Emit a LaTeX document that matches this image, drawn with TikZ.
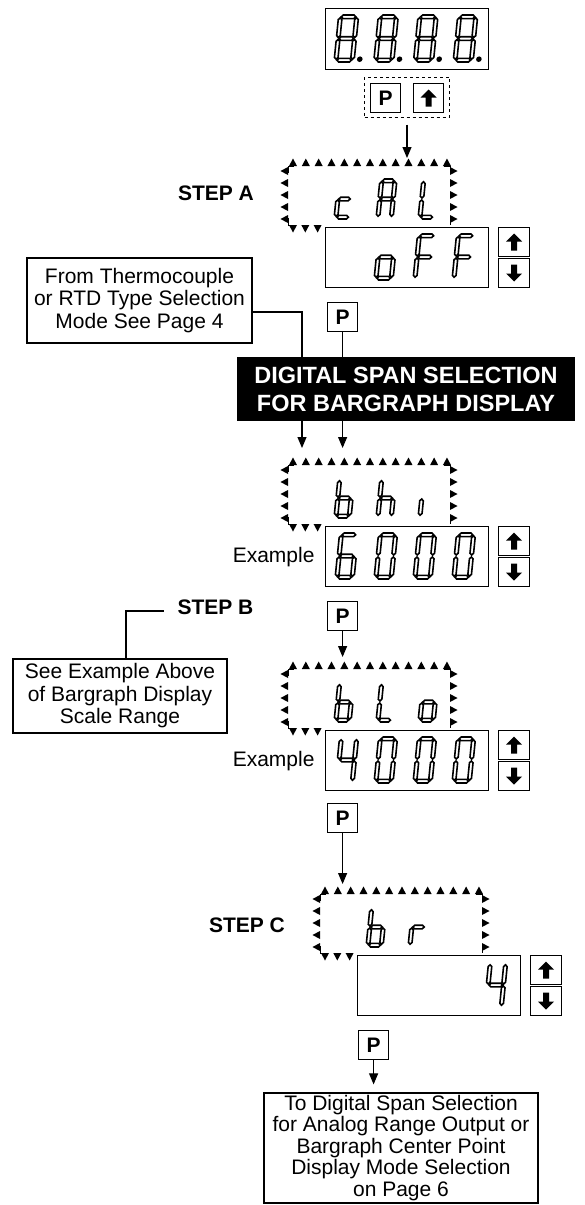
\documentclass[tikz,border=0pt]{standalone}
\usepackage{fontspec}
\setmainfont{Liberation Sans}
\usetikzlibrary{arrows.meta}

% seven segment bars (hexagonal ends)
\newcommand{\segq}{1.8}
\newcommand{\seghor}[3]{\filldraw[segline] ({#1},{#3}) -- ({#1+\segq},{#3-\segq}) -- ({#2-\segq},{#3-\segq}) -- ({#2},{#3}) -- ({#2-\segq},{#3+\segq}) -- ({#1+\segq},{#3+\segq}) -- cycle;}
\newcommand{\segver}[3]{\filldraw[segline] ({#1},{#2}) -- ({#1+\segq},{#2+\segq}) -- ({#1+\segq},{#3-\segq}) -- ({#1},{#3}) -- ({#1-\segq},{#3-\segq}) -- ({#1-\segq},{#2+\segq}) -- cycle;}
\newcommand{\sga}{\seghor{\segq+1}{\sgw-\segq-1}{-\sgh+\segq}}
\newcommand{\sgg}{\seghor{\segq+1}{\sgw-\segq-1}{-\sgh/2}}
\newcommand{\sgd}{\seghor{\segq+1}{\sgw-\segq-1}{-\segq}}
\newcommand{\sgf}{\segver{\segq}{-\sgh+\segq+1}{-\sgh/2-1}}
\newcommand{\sge}{\segver{\segq}{-\sgh/2+1}{-\segq-1}}
\newcommand{\sgb}{\segver{\sgw-\segq}{-\sgh+\segq+1}{-\sgh/2-1}}
\newcommand{\sgc}{\segver{\sgw-\segq}{-\sgh/2+1}{-\segq-1}}
\newcommand{\sgp}{\fill ({\sgw+5.5},-2.8) circle (2.8);}
% one glyph: x, y of bottom left, width, height, segments
\newcommand{\sevenseg}[5]{%
  \begin{scope}[shift={({#1},{#2})},xslant=0.1]
    \def\sgw{#3}\def\sgh{#4}%
    \foreach \sgid in {#5}{\csname sg\sgid\endcsname}%
  \end{scope}}
\newcommand{\upchar}[4]{\sevenseg{#1-33+#3*42}{#2-8}{17}{40}{#4}}
\newcommand{\lowchar}[4]{\sevenseg{#1+10+#3*39}{#2+53}{19}{46}{#4}}

% flashing frame round the upper display
\newcommand{\triframe}[2]{%
  \pgfmathsetmacro{\frL}{#1-37}\pgfmathsetmacro{\frR}{#1+125}%
  \pgfmathsetmacro{\frT}{#2-61}\pgfmathsetmacro{\frB}{#2-2}%
  \foreach \tk in {0,...,12}{%
    \pgfmathsetmacro{\tcx}{#1-32+\tk*12.83}%
    \fill (\tcx-4,\frT) -- (\tcx+4,\frT) -- (\tcx,\frT-7.5) -- cycle;}%
  \foreach \dy in {56,44,32,20,8}{%
    \fill (\frL,#2-\dy-4) -- (\frL,#2-\dy+4) -- (\frL-7.5,#2-\dy) -- cycle;
    \fill (\frR,#2-\dy-4) -- (\frR,#2-\dy+4) -- (\frR+7.5,#2-\dy) -- cycle;}%
  \foreach \tk in {0,1,2}{%
    \pgfmathsetmacro{\tcx}{#1-32+\tk*12.3}%
    \fill (\tcx-4,\frB) -- (\tcx+4,\frB) -- (\tcx,\frB+7.5) -- cycle;}%
  \draw[line width=0.7pt] (\frL,\frT+7) -- (\frL,\frT) -- (\frL+6,\frT)
    (\frR-6,\frT) -- (\frR,\frT) -- (\frR,\frT+7)
    (\frL,\frB-7) -- (\frL,\frB) -- (\frL+6,\frB)
    (\frR,\frB-7) -- (\frR,\frB);}

% block arrows on the keys
\newcommand{\uparr}[1]{\fill (#1.center) ++(0,-8.5) -- ++(8,8) -- ++(-5,0) -- ++(0,9) -- ++(-6,0) -- ++(0,-9) -- ++(-5,0) -- cycle;}
\newcommand{\downarr}[1]{\fill (#1.center) ++(0,8.5) -- ++(8,-8) -- ++(-5,0) -- ++(0,-9) -- ++(-6,0) -- ++(0,9) -- ++(-5,0) -- cycle;}

\begin{document}
\begin{tikzpicture}[x=1pt,y=-1pt]
    \tikzstyle{segline} = [draw=black, fill=white, line width=1.6pt]
    \tikzstyle{dispbox} = [draw, line width=1.2pt, minimum width=163pt, minimum height=60pt, inner sep=0pt, anchor=north west]
    \tikzstyle{keybox} = [draw, line width=1.2pt, minimum width=30pt, minimum height=29pt, inner sep=0pt, anchor=north west, font=\bfseries\fontsize{21}{21}\selectfont]
    \tikzstyle{arrbox} = [keybox, minimum width=31pt]
    \tikzstyle{notebox} = [draw, line width=1.2pt, align=center, inner sep=2pt, font=\fontsize{21}{22.5}\selectfont]
    \tikzstyle{steplabel} = [font=\bfseries\fontsize{21}{21}\selectfont]
    \tikzstyle{exlabel} = [anchor=east, font=\fontsize{21}{21}\selectfont]
    \tikzstyle{banner} = [fill=black, text=white, align=center, minimum width=338pt, minimum height=64pt, inner sep=0pt, font=\bfseries\fontsize{23.5}{28}\selectfont]
    \tikzstyle{flow} = [line width=1.1pt, -{Triangle[length=11pt,width=9pt]}]
    \tikzstyle{link} = [line width=1.1pt]

    \useasboundingbox (0,0) rectangle (584,1205);

    % start display and keys
    \node[dispbox, minimum height=61pt] (disp0) at (325,8) {};
    \foreach \dg in {0,...,3}{\sevenseg{334+\dg*39.7}{62}{20}{47}{a,b,c,d,e,f,g,p}}
    \node[draw, dashed, line width=1pt, minimum width=85pt, minimum height=40pt] (keys0) at (407,97) {};
    \node[keybox] (key0P) at (370,83) {P};
    \node[keybox] (key0U) at (413,83) {};
    \uparr{key0U}
    \coordinate (calIn) at (407,158);
    \draw[flow, shorten <=7pt] (keys0.south) -- (calIn);

    % STEP A
    \node[steplabel] (stepA) at (216,193) {STEP A};
    \triframe{325}{227}
    \upchar{325}{227}{1}{d,e,g}
    \upchar{325}{227}{2}{a,b,c,e,f,g}
    \upchar{325}{227}{3}{d,e,f}
    \node[dispbox] (dispA) at (325,227) {};
    \lowchar{325}{227}{1}{c,d,e,g}
    \lowchar{325}{227}{2}{a,e,f,g}
    \lowchar{325}{227}{3}{a,e,f,g}
    \node[arrbox] (upA) at (498,227) {};
    \node[arrbox] (downA) at (498,258) {};
    \uparr{upA}
    \downarr{downA}

    \node[notebox, minimum width=225pt, minimum height=85pt] (fromTC) at (139.5,300.5) {From Thermocouple\\or RTD Type Selection\\Mode See Page 4};
    \node[keybox] (keyA) at (327,302) {P};
    \coordinate (tcKnee) at (302,312);
    \coordinate (hiIn) at (302,448);
    \draw[flow] (tcKnee -| fromTC.east) -- (tcKnee) -- (hiIn);
    \draw[flow] (keyA.south) -- (keyA.south |- hiIn);
    \node[banner] (spanHead) at (406,389) {DIGITAL SPAN SELECTION\\FOR BARGRAPH DISPLAY};

    % bargraph high
    \triframe{325}{526}
    \upchar{325}{526}{1}{c,d,e,f,g}
    \upchar{325}{526}{2}{c,e,f,g}
    \upchar{325}{526}{3}{e}
    \node[dispbox] (dispB) at (325,526) {};
    \lowchar{325}{526}{0}{a,c,d,e,f,g}
    \foreach \dg in {1,2,3}{\lowchar{325}{526}{\dg}{a,b,c,d,e,f}}
    \node[arrbox] (upB) at (498,526) {};
    \node[arrbox] (downB) at (498,557) {};
    \uparr{upB}
    \downarr{downB}
    \node[exlabel] (exB) at (318,557) {Example};

    % STEP B
    \node[keybox] (keyB) at (327,601) {P};
    \coordinate (loIn) at (342,657);
    \draw[flow] (keyB.south) -- (keyB.south |- loIn);
    \node[steplabel] (stepB) at (215.5,607) {STEP B};
    \node[notebox, minimum width=214pt, minimum height=74pt] (seeEx) at (120,696) {See Example Above\\of Bargraph Display\\Scale Range};
    \coordinate (seeKnee) at (126,611);
    \draw[link, shorten >=10pt] (seeKnee |- seeEx.north) -- (seeKnee) -- (seeKnee -| stepB.west);

    % bargraph low
    \triframe{325}{730}
    \upchar{325}{730}{1}{c,d,e,f,g}
    \upchar{325}{730}{2}{d,e,f}
    \upchar{325}{730}{3}{c,d,e,g}
    \node[dispbox] (dispC) at (325,730) {};
    \lowchar{325}{730}{0}{b,c,f,g}
    \foreach \dg in {1,2,3}{\lowchar{325}{730}{\dg}{a,b,c,d,e,f}}
    \node[arrbox] (upC) at (498,730) {};
    \node[arrbox] (downC) at (498,761) {};
    \uparr{upC}
    \downarr{downC}
    \node[exlabel] (exC) at (318,761) {Example};

    \node[keybox] (keyC) at (327,803) {P};
    \coordinate (brIn) at (342,884);
    \draw[flow] (keyC.south) -- (keyC.south |- brIn);

    % STEP C
    \node[steplabel] (stepC) at (247,925) {STEP C};
    \triframe{357}{955}
    \upchar{357}{955}{1}{c,d,e,f,g}
    \upchar{357}{955}{2}{e,g}
    \node[dispbox] (dispD) at (357,955) {};
    \lowchar{357}{955}{3}{b,c,f,g}
    \node[arrbox] (upD) at (530,955) {};
    \node[arrbox] (downD) at (530,986) {};
    \uparr{upD}
    \downarr{downD}

    \node[keybox] (keyD) at (358,1030) {P};
    \node[notebox, minimum width=274pt, minimum height=110pt, font=\fontsize{21}{21.5}\selectfont] (nextPage) at (401,1148) {To Digital Span Selection\\for Analog Range Output or\\Bargraph Center Point\\Display Mode Selection\\on Page 6};
    \draw[flow, shorten >=8pt] (keyD.south) -- (keyD.south |- nextPage.north);
\end{tikzpicture}
\end{document}
